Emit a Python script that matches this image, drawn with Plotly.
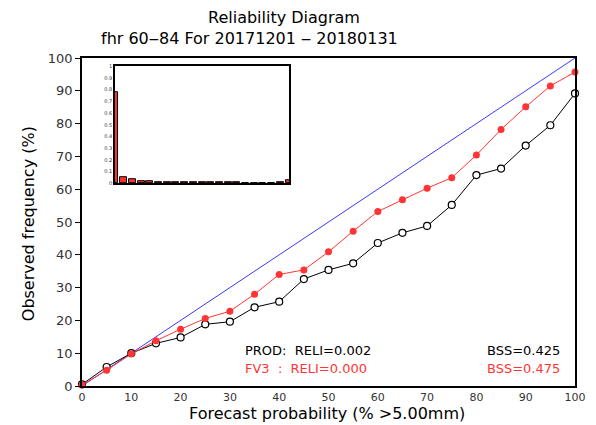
import plotly.graph_objects as go

# forecast probability bins (%)
prob = [0, 5, 10, 15, 20, 25, 30, 35, 40, 45, 50, 55, 60, 65, 70, 75, 80, 85, 90, 95, 100]

# observed frequency (%)
prod_obs = [0.5, 5.8, 10.0, 13.0, 14.8, 18.8, 19.6, 24.0, 25.7, 32.6, 35.4,
            37.4, 43.6, 46.7, 48.8, 55.2, 64.3, 66.3, 73.3, 79.5, 89.2]
fv3_obs = [0.3, 4.8, 9.8, 13.8, 17.3, 20.6, 22.8, 28.0, 34.0, 35.4, 40.9,
           47.2, 53.2, 56.8, 60.3, 63.5, 70.4, 78.2, 85.1, 91.5, 95.7]

# forecast sample fraction per bin (inset)
sample_frac = [0.78, 0.05, 0.035, 0.02, 0.015, 0.012, 0.01, 0.01, 0.008, 0.008, 0.007,
               0.007, 0.006, 0.006, 0.006, 0.005, 0.005, 0.005, 0.005, 0.006, 0.025]

axis_ticks = [0, 10, 20, 30, 40, 50, 60, 70, 80, 90, 100]
inset_ticks = [0, 0.1, 0.2, 0.3, 0.4, 0.5, 0.6, 0.7, 0.8, 0.9, 1]
inset_labels = ["0", "0.1", "0.2", "0.3", "0.4", "0.5", "0.6", "0.7", "0.8", "0.9", "1"]

FONT = "DejaVu Sans"

fig = go.Figure()

# perfect reliability
fig.add_trace(go.Scatter(x=[0, 100], y=[0, 100], mode="lines",
                         line=dict(color="#3838ff", width=1), showlegend=False))

fig.add_trace(go.Scatter(
    x=prob, y=prod_obs, mode="lines+markers",
    line=dict(color="black", width=1),
    marker=dict(symbol="circle", size=7, color="white", line=dict(color="black", width=1.2)),
    showlegend=False, cliponaxis=False))

fig.add_trace(go.Scatter(
    x=prob, y=fv3_obs, mode="lines+markers",
    line=dict(color="#ff3535", width=1),
    marker=dict(symbol="circle", size=7, color="#ff3535"),
    showlegend=False, cliponaxis=False))

# inset histogram
fig.add_trace(go.Bar(
    x=prob, y=sample_frac, width=4, xaxis="x2", yaxis="y2",
    marker=dict(color="#ff3030", line=dict(color="black", width=1)),
    showlegend=False))

# page body adds an 8px offset, so margins are shifted accordingly
fig.update_layout(
    width=596, height=425,
    margin=dict(l=74, r=29, t=50, b=47, autoexpand=False),
    paper_bgcolor="white", plot_bgcolor="white",
    font=dict(family=FONT, color="black"),
    xaxis=dict(range=[0, 100], tickvals=axis_ticks, showgrid=False, zeroline=False,
               showline=True, linecolor="black", linewidth=1.5, mirror=True,
               ticks="", tickfont=dict(size=11, color="#333"), automargin=False),
    yaxis=dict(range=[0, 100], tickvals=axis_ticks, showgrid=False, zeroline=False,
               showline=True, linecolor="black", linewidth=1.5, mirror=True,
               ticks="outside", ticklen=5, tickcolor="black",
               tickfont=dict(size=13, color="#333"), automargin=False),
    xaxis2=dict(domain=[0.067, 0.42], anchor="y2", range=[0, 100], showticklabels=False,
                ticks="", showgrid=False, zeroline=False, showline=True,
                linecolor="black", linewidth=1.5, mirror=True, automargin=False),
    yaxis2=dict(domain=[0.618, 0.975], anchor="x2", range=[0, 1], tickvals=inset_ticks,
                ticktext=inset_labels, ticks="", showgrid=False, zeroline=False,
                showline=True, linecolor="black", linewidth=1.5, mirror=True,
                tickfont=dict(size=5, color="#333"), automargin=False),
    bargap=0,
)

# titles
centered = dict(xref="paper", yref="paper", showarrow=False, xanchor="center", yanchor="middle")
fig.add_annotation(x=0.41, y=1.122, text="Reliability Diagram",
                   font=dict(size=16, color="black"), **centered)
fig.add_annotation(x=0.339, y=1.058, text="fhr 60\u201284 For 20171201 \u2012 20180131",
                   font=dict(size=16, color="black"), **centered)
fig.add_annotation(x=0.497, y=-0.085, text="Forecast probability (% >5.00mm)",
                   font=dict(size=16, color="black"), **centered)
fig.add_annotation(x=-0.107, y=0.494, text="Observed frequency (%)", textangle=-90,
                   font=dict(size=16, color="black"), **centered)

# scores
fig.add_annotation(x=32.7, y=10.7, xref="x", yref="y", text="PROD:  RELI=0.002",
                   showarrow=False, xanchor="left", font=dict(size=13, color="black"))
fig.add_annotation(x=32.7, y=5.2, xref="x", yref="y", text="FV3  :  RELI=0.000",
                   showarrow=False, xanchor="left", font=dict(size=13, color="#ff3535"))
fig.add_annotation(x=97.4, y=10.7, xref="x", yref="y", text="BSS=0.425",
                   showarrow=False, xanchor="right", font=dict(size=13, color="black"))
fig.add_annotation(x=97.4, y=5.2, xref="x", yref="y", text="BSS=0.475",
                   showarrow=False, xanchor="right", font=dict(size=13, color="#ff3535"))

fig.write_html("out.html")
